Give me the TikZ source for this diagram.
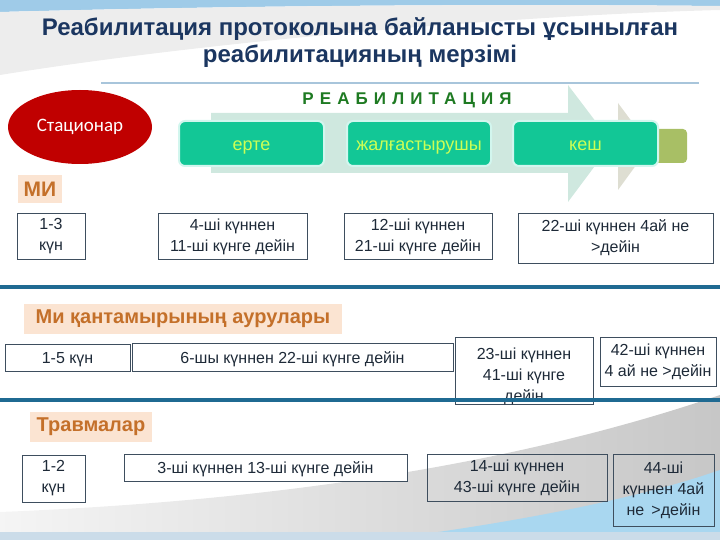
\documentclass[tikz,border=0pt]{standalone}
\usepackage{fontspec}
\setmainfont{Liberation Sans}
\newfontfamily\spacedfont[LetterSpace=36]{Liberation Sans}
\newfontfamily\calfont{Carlito}
\usetikzlibrary{
  shapes.geometric,
  positioning
}
\definecolor{rbTitle}{HTML}{1B3660}
\definecolor{rbGreen}{HTML}{1E7A22}
\definecolor{rbStage}{HTML}{12C796}
\definecolor{rbStageEdge}{HTML}{D2F6EE}
\definecolor{rbStageText}{HTML}{CCFF55}
\definecolor{rbMint}{HTML}{CFE8DF}
\definecolor{rbBeige}{HTML}{DEDED2}
\definecolor{rbOlive}{HTML}{A8BF65}
\definecolor{rbRed}{HTML}{C00000}
\definecolor{rbPeach}{HTML}{FBE4D2}
\definecolor{rbOrange}{HTML}{C4702A}
\definecolor{rbLine}{HTML}{3E4E5E}
\definecolor{rbText}{HTML}{1E2A38}
\definecolor{rbDiv}{HTML}{1F6A92}
\definecolor{rbThin}{HTML}{A8C5DB}
\definecolor{rbSky}{HTML}{A9D7F0}
\definecolor{rbTopBlue}{HTML}{9FCBE8}
\tikzset{
  datebox/.style={
    draw=rbLine, fill=white, line width=0.8pt, inner sep=0pt,
    align=center, text=rbText, font=\fontsize{16}{21}\selectfont
  },
  oneline/.style={datebox, text height=14pt, text depth=3pt},
  stagebox/.style={
    draw=rbStageEdge, line width=2pt, fill=rbStage, rounded corners=6pt,
    minimum height=45, inner sep=0pt, text=rbStageText,
    text height=18pt, text depth=3pt,
    font=\fontsize{18}{20}\selectfont
  },
  grouplabel/.style={
    fill=rbPeach, inner sep=0pt, text=rbOrange,
    font=\bfseries\fontsize{20}{22}\selectfont
  },
  divider/.style={line width=4pt, rbDiv},
  thinrule/.style={line width=1.5pt, rbThin}
}
\begin{document}
\begin{tikzpicture}[x=1pt, y=-1pt]
  \useasboundingbox (0,0) rectangle (720,540);
  % backdrop
  \fill[rbTopBlue] (0,0) -- (720,0) -- (720,6) .. controls (400,3) and (150,8) .. (0,12) -- cycle;
  \fill[black!7] (0,12) .. controls (150,8) and (400,3) .. (720,6) -- (720,10)
    .. controls (560,14) and (250,35) .. (0,75) -- cycle;
  \shade[left color=black!4, right color=black!22] (0,512) .. controls (250,502) and (500,470) .. (720,395)
    -- (720,540) -- (0,540) -- cycle;
  \fill[rbSky] (380,540) .. controls (520,522) and (640,498) .. (720,470) -- (720,540) -- cycle;
  \fill[rbThin!60] (0,532) -- (720,532) -- (720,540) -- (0,540) -- cycle;
  \draw[thinrule] (101,83) -- (699,83);

  % title
  \node[text=rbTitle, align=center, font=\bfseries\fontsize{24}{27}\selectfont] (title) at (360,43)
    {Реабилитация протоколына байланысты ұсынылған\\реабилитацияның мерзімі};

  % stages
  \fill[rbMint] (211,113) -- (568,113) -- (568,85) -- (612,143) -- (568,202) -- (568,173) -- (211,173) -- cycle;
  \fill[rbBeige] (618,103) -- (650,146) -- (618,190) -- cycle;
  \fill[rbOlive, rounded corners=4pt] (640,129) rectangle (687,163);
  \node[text=rbGreen, font=\spacedfont\bfseries\fontsize{17}{18}\selectfont] (reab) at (407,100) {РЕАБИЛИТАЦИЯ};
  \node[stagebox, minimum width=145] (early) at (251.5,143.5) {ерте};
  \node[stagebox, minimum width=144] (cont) at (419,143.5) {жалғастырушы};
  \node[stagebox, minimum width=145] (late) at (585.5,143.5) {кеш};
  \node[ellipse, fill=rbRed, minimum width=144, minimum height=74, inner sep=0pt,
    text=white, font=\calfont\fontsize{19}{20}\selectfont] (stat) at (80,127) {Стационар};

  % МИ
  \node[grouplabel, minimum width=44, minimum height=28, font=\bfseries\fontsize{21}{22}\selectfont] (mi) at (40,189) {МИ};
  \node[datebox, minimum width=68, minimum height=46] (mi1) at (51,236) {1-3\\күн};
  \node[datebox, minimum width=149, minimum height=46] (mi2) at (232.5,236.5) {4-ші күннен\\11-ші күнге дейін};
  \node[datebox, minimum width=148, minimum height=46] (mi3) at (418,236.5) {12-ші күннен\\21-ші күнге дейін};
  \node[datebox, minimum width=195, minimum height=50] (mi4) at (615.5,238) {22-ші күннен 4ай не\\>дейін};
  \draw[divider] (0,287) -- (720,287);

  % қантамыр
  \node[grouplabel, minimum width=318, minimum height=30] (vasc) at (183,319) {Ми қантамырының аурулары};
  \node[oneline, minimum width=125, minimum height=27] (va1) at (67.5,358) {1-5 күн};
  \node[oneline, minimum width=321, minimum height=28] (va2) at (292.5,357.5) {6-шы күннен 22-ші күнге дейін};
  \node[datebox, minimum width=138, minimum height=65, text height=63.5pt, text depth=3.5pt] (va3) at (524,371) {23-ші күннен\\41-ші күнге\\дейін};
  \node[datebox, minimum width=116, minimum height=49] (va4) at (658,361.5) {42-ші күннен\\4 ай не >дейін};
  \draw[divider] (0,400) -- (720,400);

  % травма
  \node[grouplabel, minimum width=122, minimum height=30] (trauma) at (91,427) {Травмалар};
  \node[datebox, minimum width=63, minimum height=47] (tr1) at (53.5,478.5) {1-2\\күн};
  \node[oneline, minimum width=283, minimum height=27] (tr2) at (265.5,467.5) {3-ші күннен 13-ші күнге дейін};
  \node[datebox, minimum width=180, minimum height=47, fill=none] (tr3) at (517,477.5) {14-ші күннен\\43-ші күнге дейін};
  \node[datebox, minimum width=101, minimum height=72, fill=none] (tr4) at (663.5,490) {44-ші\\күннен 4ай\\не \,>дейін};
\end{tikzpicture}
\end{document}
